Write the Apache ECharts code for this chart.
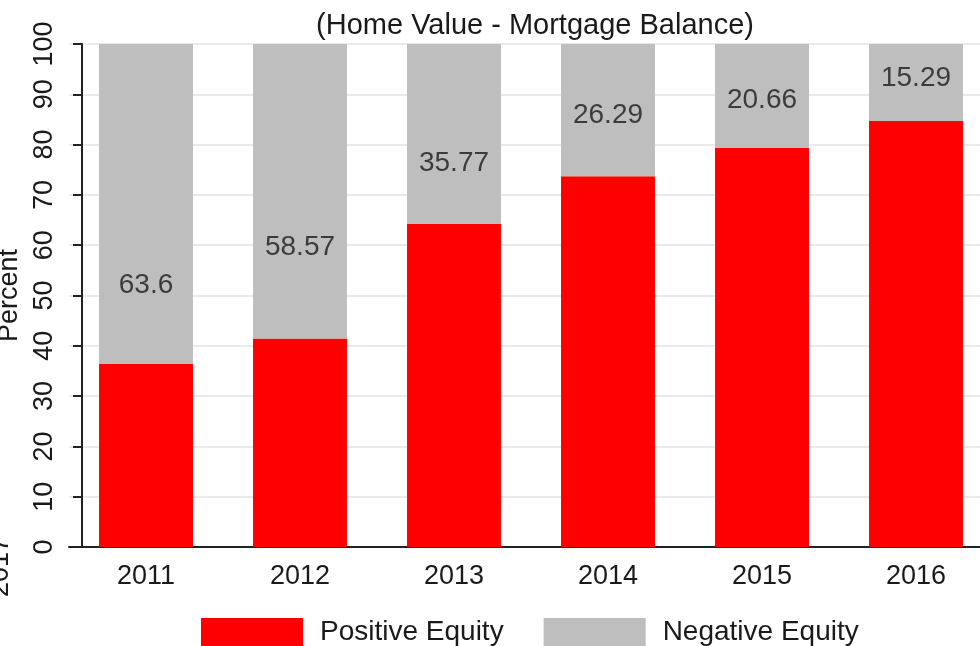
<!DOCTYPE html>
<html>
<head>
<meta charset="utf-8">
<script src="https://cdn.jsdelivr.net/npm/echarts@6/dist/echarts.min.js"></script>
<style>
html,body{margin:0;padding:0;background:#fff;}
#chart{width:980px;height:646px;}
</style>
</head>
<body>
<div id="chart"></div>
<script>
var categories = ['2011', '2012', '2013', '2014', '2015', '2016'];
var positiveEquity = [36.4, 41.43, 64.23, 73.71, 79.34, 84.71];
var negativeEquity = [63.6, 58.57, 35.77, 26.29, 20.66, 15.29];
var labelHeights = [52.1, 59.6, 76.3, 85.9, 88.9, 93.2];
var yTicks = [0, 10, 20, 30, 40, 50, 60, 70, 80, 90, 100];

var FONT = '"Liberation Sans", Arial, sans-serif';
var chart = echarts.init(document.getElementById('chart'));
chart.setOption({
  animation: false,
  backgroundColor: '#ffffff',
  title: {
    text: '(Home Value - Mortgage Balance)',
    left: 530,
    top: 6,
    textAlign: 'center',
    textStyle: { fontFamily: FONT, fontSize: 29, fontWeight: 'normal', color: '#1a1a1a' }
  },
  grid: { left: 69, width: 924, top: 44, bottom: 99, containLabel: false, outerBoundsMode: 'none' },
  legend: {
    data: ['Positive Equity', 'Negative Equity'],
    left: 196,
    top: 613,
    icon: 'rect',
    itemWidth: 102,
    itemHeight: 28,
    itemGap: 40,
    textStyle: { fontFamily: FONT, fontSize: 28, color: '#1a1a1a', padding: [0, 0, 0, 12] }
  },
  xAxis: {
    type: 'category',
    data: categories,
    axisLine: { show: true, lineStyle: { color: '#222', width: 2 } },
    axisTick: { show: false },
    axisLabel: { fontFamily: FONT, fontSize: 27, color: '#1a1a1a', margin: 16 }
  },
  yAxis: {
    type: 'value',
    min: yTicks[0],
    max: yTicks[yTicks.length - 1],
    interval: 10,
    offset: -13,
    name: 'Percent',
    nameLocation: 'middle',
    nameRotate: 90,
    nameGap: 58,
    nameTextStyle: { fontFamily: FONT, fontSize: 27, color: '#1a1a1a' },
    axisLine: { show: true, lineStyle: { color: '#222', width: 2 } },
    axisTick: { show: true, length: 9, lineStyle: { color: '#222', width: 2 } },
    axisLabel: { fontFamily: FONT, fontSize: 27, color: '#1a1a1a', rotate: 90, margin: 24 },
    splitLine: { show: true, lineStyle: { color: '#eaeaea', width: 2 } }
  },
  graphic: [{
    type: 'text',
    x: 1,
    y: 567,
    rotation: Math.PI / 2,
    style: { text: '2017', fontFamily: FONT, fontSize: 27, fill: '#1a1a1a', align: 'center', verticalAlign: 'middle' }
  }],
  series: [
    {
      name: 'Positive Equity',
      type: 'bar',
      stack: 'total',
      data: positiveEquity,
      barWidth: '61%',
      itemStyle: { color: '#ff0000' }
    },
    {
      name: 'Negative Equity',
      type: 'bar',
      stack: 'total',
      data: negativeEquity,
      barWidth: '61%',
      itemStyle: { color: '#bebebe' }
    },
    {
      name: 'labels',
      type: 'scatter',
      symbolSize: 0,
      data: labelHeights.map(function (h, i) { return [categories[i], h, negativeEquity[i]]; }),
      label: {
        show: true,
        position: 'inside',
        formatter: function (p) { return String(p.data[2]); },
        fontFamily: FONT, fontSize: 28, color: '#1a1a1a'
      },
      silent: true,
      z: 5
    }
  ]
});
</script>
</body>
</html>
